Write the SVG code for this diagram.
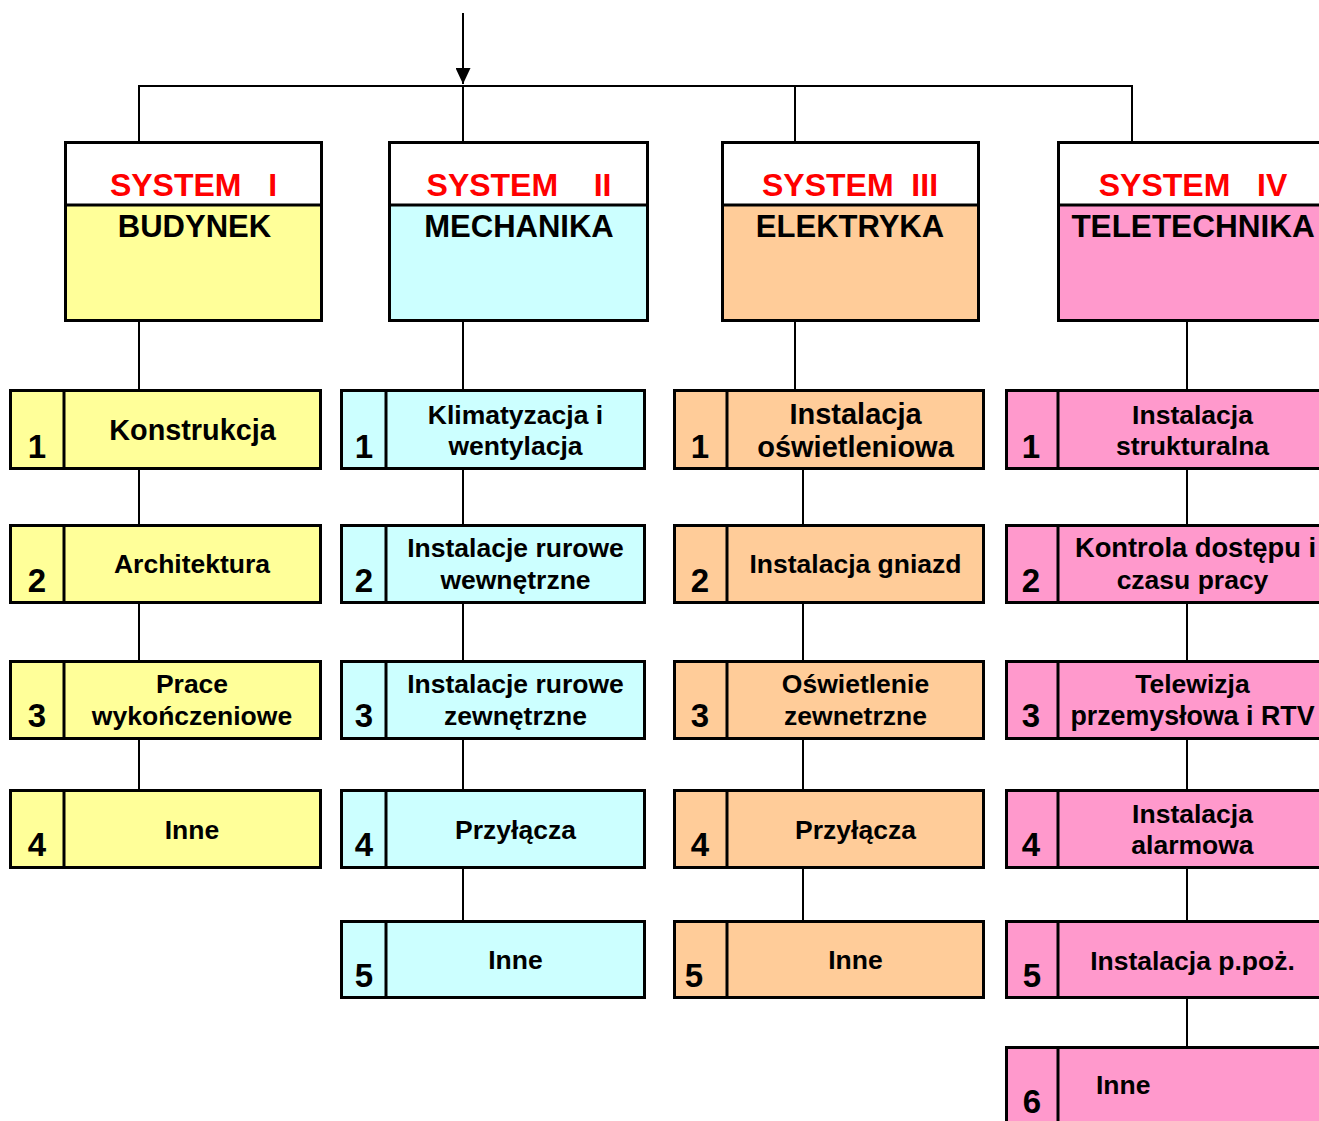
<svg xmlns="http://www.w3.org/2000/svg" width="1319" height="1121" viewBox="0 0 1319 1121">
<style>
.box{stroke:#000;stroke-width:3}
.y{fill:#FFFF99}.c{fill:#CCFFFF}.o{fill:#FFCC99}.p{fill:#FF99CC}.w{fill:#FFFFFF}
.dv{stroke:#000;stroke-width:3}
.cn{stroke:#000;stroke-width:2;fill:none}
text{font-family:"Liberation Sans",Arial,sans-serif;font-weight:bold;fill:#000}
.sys{font-size:32px;fill:#FF0000;text-anchor:middle}
.nm{font-size:31px;text-anchor:middle}
.num{font-size:33px;text-anchor:middle}
.lb{font-size:26.5px;text-anchor:middle}
</style>
<defs>
<marker id="ah" markerWidth="16" markerHeight="15" refX="16" refY="7.5" orient="auto" markerUnits="userSpaceOnUse" viewBox="0 0 16 15">
<path d="M0,0 L16,7.5 L0,15 Z" fill="#000"/>
</marker>
</defs>
<g id="connectors">
<line class="cn" x1="463" y1="13" x2="463" y2="84" marker-end="url(#ah)"/>
<polyline class="cn" points="139,142 139,86 1132,86 1132,142"/>
<line class="cn" x1="463" y1="86" x2="463" y2="142"/>
<line class="cn" x1="795" y1="86" x2="795" y2="142"/>
<line class="cn" x1="139" y1="321" x2="139" y2="390"/>
<line class="cn" x1="463" y1="321" x2="463" y2="390"/>
<line class="cn" x1="795" y1="321" x2="795" y2="390"/>
<line class="cn" x1="1187" y1="321" x2="1187" y2="390"/>
<line class="cn" x1="139" y1="469" x2="139" y2="525"/>
<line class="cn" x1="139" y1="602" x2="139" y2="661"/>
<line class="cn" x1="139" y1="739" x2="139" y2="790"/>
<line class="cn" x1="463" y1="469" x2="463" y2="525"/>
<line class="cn" x1="463" y1="602" x2="463" y2="661"/>
<line class="cn" x1="463" y1="739" x2="463" y2="790"/>
<line class="cn" x1="463" y1="867" x2="463" y2="921"/>
<line class="cn" x1="803" y1="469" x2="803" y2="525"/>
<line class="cn" x1="803" y1="602" x2="803" y2="661"/>
<line class="cn" x1="803" y1="739" x2="803" y2="790"/>
<line class="cn" x1="803" y1="867" x2="803" y2="921"/>
<line class="cn" x1="1187" y1="469" x2="1187" y2="525"/>
<line class="cn" x1="1187" y1="602" x2="1187" y2="661"/>
<line class="cn" x1="1187" y1="739" x2="1187" y2="790"/>
<line class="cn" x1="1187" y1="867" x2="1187" y2="921"/>
<line class="cn" x1="1187" y1="998" x2="1187" y2="1047"/>
</g>
<g id="sys1">
<rect class="box y" x="65.5" y="142.5" width="256" height="178"/>
<rect class="w" x="67" y="144" width="253" height="60"/>
<line class="dv" x1="65.5" y1="205" x2="321.5" y2="205"/>
<text class="sys" x="193.5" y="196" xml:space="preserve">SYSTEM   I</text>
<text class="nm" x="194.5" y="237">BUDYNEK</text>
</g>
<g id="sys2">
<rect class="box c" x="389.5" y="142.5" width="258" height="178"/>
<rect class="w" x="391" y="144" width="255" height="60"/>
<line class="dv" x1="389.5" y1="205" x2="647.5" y2="205"/>
<text class="sys" x="519" y="196" xml:space="preserve">SYSTEM    II</text>
<text class="nm" x="519" y="237">MECHANIKA</text>
</g>
<g id="sys3">
<rect class="box o" x="722.5" y="142.5" width="256" height="178"/>
<rect class="w" x="724" y="144" width="253" height="60"/>
<line class="dv" x1="722.5" y1="205" x2="978.5" y2="205"/>
<text class="sys" x="850" y="196" xml:space="preserve">SYSTEM  III</text>
<text class="nm" x="850" y="237">ELEKTRYKA</text>
</g>
<g id="sys4">
<rect class="box p" x="1058.5" y="142.5" width="272" height="178"/>
<rect class="w" x="1060" y="144" width="269" height="60"/>
<line class="dv" x1="1058.5" y1="205" x2="1330" y2="205"/>
<text class="sys" x="1193" y="196" xml:space="preserve">SYSTEM   IV</text>
<text class="nm" x="1193" y="237" style="font-size:31.5px">TELETECHNIKA</text>
</g>
<g id="b1-1">
<rect class="box y" x="10.5" y="390.5" width="310" height="78"/>
<line class="dv" x1="64" y1="390.5" x2="64" y2="468.5"/>
<text class="num" x="37" y="458">1</text>
<text class="lb" x="192.5" y="440" style="font-size:28.8px">Konstrukcja</text>
</g>
<g id="b1-2">
<rect class="box y" x="10.5" y="525.5" width="310" height="77"/>
<line class="dv" x1="64" y1="525.5" x2="64" y2="602.5"/>
<text class="num" x="37" y="592">2</text>
<text class="lb" x="192" y="573">Architektura</text>
</g>
<g id="b1-3">
<rect class="box y" x="10.5" y="661.5" width="310" height="77"/>
<line class="dv" x1="64" y1="661.5" x2="64" y2="738.5"/>
<text class="num" x="37" y="727">3</text>
<text class="lb" x="192" y="693">Prace</text>
<text class="lb" x="192" y="725">wykończeniowe</text>
</g>
<g id="b1-4">
<rect class="box y" x="10.5" y="790.5" width="310" height="77"/>
<line class="dv" x1="64" y1="790.5" x2="64" y2="867.5"/>
<text class="num" x="37" y="856">4</text>
<text class="lb" x="192" y="839">Inne</text>
</g>
<g id="b2-1">
<rect class="box c" x="341.5" y="390.5" width="303" height="78"/>
<line class="dv" x1="386" y1="390.5" x2="386" y2="468.5"/>
<text class="num" x="364" y="458">1</text>
<text class="lb" x="515.5" y="424">Klimatyzacja i</text>
<text class="lb" x="515.5" y="455">wentylacja</text>
</g>
<g id="b2-2">
<rect class="box c" x="341.5" y="525.5" width="303" height="77"/>
<line class="dv" x1="386" y1="525.5" x2="386" y2="602.5"/>
<text class="num" x="364" y="592">2</text>
<text class="lb" x="515.5" y="557">Instalacje rurowe</text>
<text class="lb" x="515.5" y="589">wewnętrzne</text>
</g>
<g id="b2-3">
<rect class="box c" x="341.5" y="661.5" width="303" height="77"/>
<line class="dv" x1="386" y1="661.5" x2="386" y2="738.5"/>
<text class="num" x="364" y="727">3</text>
<text class="lb" x="515.5" y="693">Instalacje rurowe</text>
<text class="lb" x="515.5" y="725">zewnętrzne</text>
</g>
<g id="b2-4">
<rect class="box c" x="341.5" y="790.5" width="303" height="77"/>
<line class="dv" x1="386" y1="790.5" x2="386" y2="867.5"/>
<text class="num" x="364" y="856">4</text>
<text class="lb" x="515.5" y="839">Przyłącza</text>
</g>
<g id="b2-5">
<rect class="box c" x="341.5" y="921.5" width="303" height="76"/>
<line class="dv" x1="386" y1="921.5" x2="386" y2="997.5"/>
<text class="num" x="364" y="987">5</text>
<text class="lb" x="515.5" y="969">Inne</text>
</g>
<g id="b3-1">
<rect class="box o" x="674.5" y="390.5" width="309" height="78"/>
<line class="dv" x1="727" y1="390.5" x2="727" y2="468.5"/>
<text class="num" x="700" y="458">1</text>
<text class="lb" x="855.5" y="424" style="font-size:29px">Instalacja</text>
<text class="lb" x="855.5" y="457" style="font-size:29px">oświetleniowa</text>
</g>
<g id="b3-2">
<rect class="box o" x="674.5" y="525.5" width="309" height="77"/>
<line class="dv" x1="727" y1="525.5" x2="727" y2="602.5"/>
<text class="num" x="700" y="592">2</text>
<text class="lb" x="855.5" y="573">Instalacja gniazd</text>
</g>
<g id="b3-3">
<rect class="box o" x="674.5" y="661.5" width="309" height="77"/>
<line class="dv" x1="727" y1="661.5" x2="727" y2="738.5"/>
<text class="num" x="700" y="727">3</text>
<text class="lb" x="855.5" y="693">Oświetlenie</text>
<text class="lb" x="855.5" y="725">zewnetrzne</text>
</g>
<g id="b3-4">
<rect class="box o" x="674.5" y="790.5" width="309" height="77"/>
<line class="dv" x1="727" y1="790.5" x2="727" y2="867.5"/>
<text class="num" x="700" y="856">4</text>
<text class="lb" x="855.5" y="839">Przyłącza</text>
</g>
<g id="b3-5">
<rect class="box o" x="674.5" y="921.5" width="309" height="76"/>
<line class="dv" x1="727" y1="921.5" x2="727" y2="997.5"/>
<text class="num" x="694" y="987">5</text>
<text class="lb" x="855.5" y="969">Inne</text>
</g>
<g id="b4-1">
<rect class="box p" x="1006.5" y="390.5" width="324" height="78"/>
<line class="dv" x1="1058" y1="390.5" x2="1058" y2="468.5"/>
<text class="num" x="1031" y="458">1</text>
<text class="lb" x="1192.5" y="424">Instalacja</text>
<text class="lb" x="1192.5" y="455">strukturalna</text>
</g>
<g id="b4-2">
<rect class="box p" x="1006.5" y="525.5" width="324" height="77"/>
<line class="dv" x1="1058" y1="525.5" x2="1058" y2="602.5"/>
<text class="num" x="1031" y="592">2</text>
<text class="lb" x="1195.5" y="557" style="font-size:27.3px">Kontrola dostępu i</text>
<text class="lb" x="1192.5" y="589">czasu pracy</text>
</g>
<g id="b4-3">
<rect class="box p" x="1006.5" y="661.5" width="324" height="77"/>
<line class="dv" x1="1058" y1="661.5" x2="1058" y2="738.5"/>
<text class="num" x="1031" y="727">3</text>
<text class="lb" x="1192.5" y="693">Telewizja</text>
<text class="lb" x="1192.5" y="725" style="font-size:26.8px">przemysłowa i RTV</text>
</g>
<g id="b4-4">
<rect class="box p" x="1006.5" y="790.5" width="324" height="77"/>
<line class="dv" x1="1058" y1="790.5" x2="1058" y2="867.5"/>
<text class="num" x="1031" y="856">4</text>
<text class="lb" x="1192.5" y="823">Instalacja</text>
<text class="lb" x="1192.5" y="854">alarmowa</text>
</g>
<g id="b4-5">
<rect class="box p" x="1006.5" y="921.5" width="324" height="76"/>
<line class="dv" x1="1058" y1="921.5" x2="1058" y2="997.5"/>
<text class="num" x="1032" y="987">5</text>
<text class="lb" x="1192.5" y="970">Instalacja p.poż.</text>
</g>
<g id="b4-6">
<rect class="box p" x="1006.5" y="1047.5" width="324" height="80"/>
<line class="dv" x1="1058" y1="1047.5" x2="1058" y2="1127"/>
<text class="num" x="1032" y="1113">6</text>
<text x="1096" y="1094" style="font-size:26.5px">Inne</text>
</g>
</svg>
